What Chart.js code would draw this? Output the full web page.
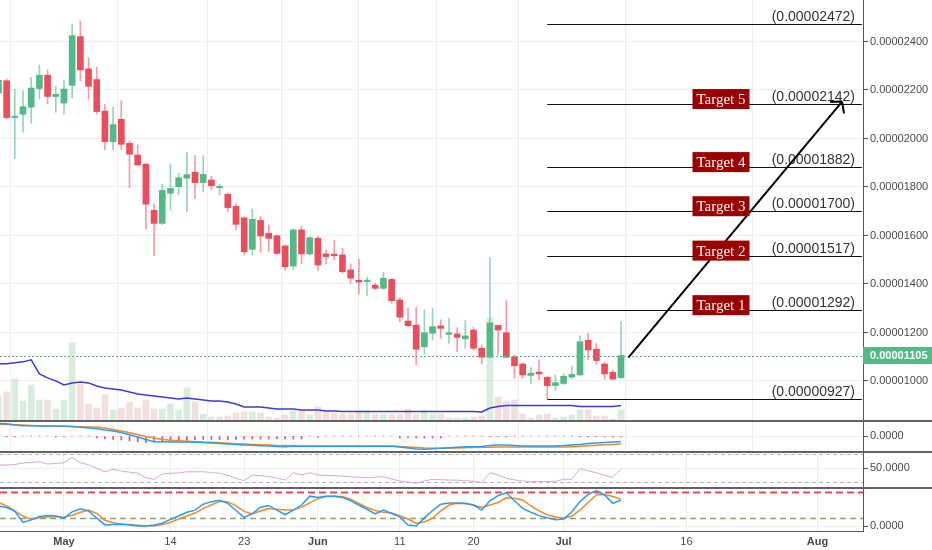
<!DOCTYPE html>
<html>
<head>
<meta charset="utf-8">
<script src="https://cdn.jsdelivr.net/npm/chart.js@4.4.1/dist/chart.umd.min.js"></script>
<style>
  html, body { margin: 0; padding: 0; background: #fff; }
  #wrap { position: relative; width: 932px; height: 550px; overflow: hidden; }
  .pane { position: absolute; left: 0; width: 932px; }
  .sep { position: absolute; left: 0; width: 932px; height: 2px; background: #606368; }
</style>
</head>
<body>
<div id="wrap">
  <div class="pane" style="top:0;height:421px"><canvas id="main"></canvas></div>
  <div class="pane" style="top:421px;height:31px"><canvas id="macd"></canvas></div>
  <div class="pane" style="top:452px;height:36px"><canvas id="rsi"></canvas></div>
  <div class="pane" style="top:488px;height:62px"><canvas id="stoch"></canvas></div>
  <div class="sep" style="top:420px"></div>
  <div class="sep" style="top:451px"></div>
  <div class="sep" style="top:487px"></div>
</div>
<script>
// days counted from May 1 (0); first candle is Apr 23
const firstDay = -8;

// prices in satoshi (1e-8)
const opens = [2188,2238,2086,2100,2129,2206,2261,2173,2146,2219,2420,2287,2243,2113,1987,2079,1980,1932,1894,1704,
  1650,1774,1801,1836,1861,1818,1829,1797,1770,1720,1673,1543,1662,1609,1599,1557,1474,1623,1524,1589,
  1524,1523,1520,1458,1415,1410,1395,1382,1419,1334,1247,1230,1141,1197,1227,1192,1194,1174,1210,1135,
  1098,1229,1199,1100,1070,1023,1037,1015,981,990,1016,1025,1168,1131,1070,1036,1014];
const highs = [2250,2245,2203,2196,2252,2303,2283,2214,2241,2472,2485,2333,2294,2141,2129,2155,1990,1974,1897,1730,
  1811,1895,1856,1943,1929,1929,1845,1812,1775,1730,1676,1709,1680,1643,1601,1562,1628,1639,1595,1595,
  1540,1581,1547,1483,1502,1428,1403,1448,1422,1345,1300,1304,1293,1300,1252,1259,1220,1249,1221,1148,
  1510,1232,1331,1108,1075,1055,1087,1020,1025,1030,1062,1186,1197,1155,1078,1045,1245];
const lows = [2180,2080,1918,2026,2063,2162,2142,2108,2100,2166,2237,2162,2101,1955,1953,1955,1797,1885,1626,1517,
  1645,1705,1767,1698,1753,1781,1788,1767,1698,1623,1520,1520,1531,1533,1520,1458,1458,1483,1520,1455,
  1483,1499,1444,1403,1359,1352,1378,1378,1320,1245,1224,1066,1111,1169,1176,1155,1121,1135,1128,1070,
  1095,1107,1095,1011,1011,990,1004,927,960,985,1010,1023,1087,1069,1007,1004,1010];
const closes = [2240,2086,2092,2131,2208,2261,2173,2182,2204,2424,2283,2215,2111,1987,2057,1976,1935,1891,1729,1650,
  1786,1794,1838,1851,1818,1852,1805,1803,1715,1646,1533,1667,1598,1588,1526,1471,1623,1524,1591,1478,
  1513,1517,1451,1424,1408,1416,1382,1424,1331,1263,1228,1131,1199,1224,1217,1199,1180,1186,1135,1098,
  1240,1210,1098,1063,1025,1032,1029,981,993,1019,1027,1162,1128,1084,1029,1008,1105];
const volumes = [25,29,42,20,36,21,21,12,21,78,37,17,13,26,11,13,19,13,21,12,
  12,17,11,33,19,7,4,4,5,8,9,9,8,4,3,6,10,10,6,14,
  9,8,7,7,10,10,7,7,7,7,12,7,10,7,7,3,3,3,4,5,
  103,24,20,21,7,3,6,7,3,4,6,11,11,5,5,2,11];
const volumeMA = [57,57,58,59,61,47,43,40,36,38,39,38,35,33,32,31,29,27,26,25,
  24,23,22,23,22,21,20,20,19,17,14,14,14,13,12,12,12,11,11,11,
  10,10,9.5,9.5,9.5,9.5,9.5,9.5,9.5,9.5,9.5,9.5,9.5,9.5,9.5,9.5,9.5,9.5,9.5,9,
  13,14.5,15.5,15.5,15.5,15.5,15.5,15.5,15.5,15.5,15.5,14.5,14.5,14.5,14.5,14.5,15.5];

// MACD pane (arbitrary units)
const macdLine = [12.7,12.2,11,10.3,10.2,10.1,10,10,9.7,9.5,8.8,8,7.2,6,5,3.5,1.2,-1,-3.5,-5.7,
  -5.8,-5.9,-6,-6.1,-6.3,-6.6,-7.1,-7.6,-8.1,-8.5,-8.9,-9.3,-9.7,-10.1,-10.5,-10.7,-10.2,-10.2,-10.2,-10.2,
  -10.2,-10.2,-10.2,-10.2,-10.2,-10.2,-10.2,-10.2,-10.2,-11,-12,-13,-13.3,-12.8,-12.3,-11.8,-11.2,-10.7,-10.7,-10.5,
  -9.5,-9,-9,-9.5,-10,-10,-10,-10,-10,-9.6,-9,-8.4,-7.6,-7,-6.5,-6,-5.7];
const signalLine = [11.8,11.6,11.2,10.9,10.6,10.3,10.1,9.9,9.7,9.5,9.3,9.1,8.9,8,6.5,5,3.3,1.5,-0.5,-2,
  -3.5,-4.2,-4.8,-5.3,-5.7,-6.1,-6.3,-6.8,-7.3,-7.7,-8.1,-8.5,-8.8,-9.1,-9.4,-9.6,-9.8,-10,-10.1,-10.1,
  -10.1,-10.1,-10.1,-10.1,-10.1,-10.1,-10.1,-10.1,-10.1,-10.4,-10.9,-11.5,-12,-12.3,-12.3,-12.2,-12,-11.7,-11.5,-11.3,
  -11.2,-11.1,-11,-11.1,-11.1,-11.1,-11.1,-11.1,-11.1,-11.1,-10.7,-10.2,-9.7,-9.2,-8.8,-8.4,-8];
const macdHist = [0,-1,-1,0,0,0,0,-1,-1,0,0,0,-2,-3,-3.5,-4,-5,-6,-6.5,-6.5,
  -6,-5.5,-5,-4.5,-4,-3.5,-3.5,-3.5,-3.5,-3.5,-3,-3,-3,-3,-3,-3,-3,-3,0,-1.5,
  0,0,0,0,0,0,0,0,0,-2,-2,-2,-2,-2,-2,0,0,0,0,0,
  -1,-1,-1,0,0,0,0,0,0,0,0,-1,-1,-1,-1,-1,-1];

const rsi = [54.7,54.7,55.5,57.5,58.5,59.4,56.1,57,58,65.7,58,55,50,45.1,48.6,46.1,44.5,42.9,36.5,34.3,
  41.9,42.9,43.5,45.1,45,45.1,44,42.9,40,35.7,32.3,40.4,39.5,38,36,33.3,43.7,40.4,43.7,40.4,
  40,39.4,38.7,38,37.3,36.6,37.5,38,34.7,31.9,30.5,28.6,31.9,34.3,33.8,33.3,33,32.3,31.5,29.4,
  43.7,40.5,35.7,33.5,31.9,31,30.9,30.9,31.5,34.3,34.3,49.4,46.5,43.7,40,37.1,48.6];
const stochK = [48,44,35,9,15,23,25,24,19,34,41,36,19,3,4,4.5,3,0.5,0.5,3,
  7,16,24,33,38,52,58,61,54,37,21,30,45,49,38,27,38,50,71,68,
  71,71,68,60,50,40,29,38,30,22,3,0.5,19,37,52,55,55,54,50,38,
  60,72,79,60,42,33,25,20,15,17,34,58,75,84,74,54,62];
const stochD = [56,48,36,24,16,20,22,23,21,26,33,38,30,14,8,5,4,2.5,1,0.5,
  4,9,17,24,31,42,50,59,58,48,35,29,36,42,40,38,38,45,55,65,
  70,71,70,64,54,44,37,33,31,25,17,7,10,19,36,50,54,53,50,44,
  50,56,67,66,62,48,36,27,22,19,24,38,56,74,75,70,64];
const rsiBands = [70, 30];
const stochBands = [80, 20];

// drawing annotations
const fibLevels = [2472, 2142, 1882, 1700, 1517, 1292, 927];
const fibStartDay = 59;
const targetLevels = [1292, 1517, 1700, 1882, 2142];
const targetNames = ["Target 1", "Target 2", "Target 3", "Target 4", "Target 5"];
const arrowDays = [68.9, 95];
const arrowPrices = [1096, 2152];

const tickDays = [0, 13, 22, 31, 41, 50, 61, 76, 92];
const tickLabels = ["May", "14", "23", "Jun", "11", "20", "Jul", "16", "Aug"];
const priceTicks = [1000, 1200, 1400, 1600, 1800, 2000, 2200, 2400];

const days = closes.map((_, i) => firstDay + i);
const X_MIN = -7.81;
const X_MAX = 97.55;
const UP = "#53b987";
const DOWN = "#eb4d5c";
const GRID = "#eceef0";

Chart.defaults.font.family = '"Liberation Sans", Arial, sans-serif';
Chart.defaults.font.size = 11;
Chart.defaults.color = "#4a4a4a";
Chart.defaults.animation = false;
Chart.defaults.events = [];
Chart.defaults.plugins.legend.display = false;
Chart.defaults.plugins.tooltip.enabled = false;

const fmtPrice = (v) => (v / 1e8).toFixed(8);
const isUp = (i) => closes[i] >= opens[i];

function noPad(s) {
  s.paddingTop = 0;
  s.paddingBottom = 0;
  s.paddingLeft = 0;
  s.paddingRight = 0;
}

function xScale(showLabels) {
  return {
    type: "linear",
    min: X_MIN,
    max: X_MAX,
    offset: false,
    border: { display: showLabels, color: "#555" },
    grid: { color: GRID, drawTicks: false },
    afterBuildTicks: (s) => { s.ticks = tickDays.map((v) => ({ value: v })); },
    ticks: {
      display: showLabels,
      padding: 4,
      autoSkip: false,
      maxRotation: 0,
      color: "#4a4a4a",
      callback: (v, i) => tickLabels[i],
      font: (c) => ({ size: 11, weight: /^[A-Z]/.test(tickLabels[c.index] || "") ? "bold" : "normal" }),
    },
    afterFit: (s) => { s.height = showLabels ? 19 : 0; noPad(s); },
  };
}

function yScale(min, max, ticks, fmt) {
  return {
    position: "right",
    min,
    max,
    border: { color: "#555" },
    grid: { color: GRID, tickColor: "#555", tickLength: 5 },
    afterBuildTicks: (s) => { s.ticks = ticks.map((v) => ({ value: v })); },
    ticks: { padding: 2, color: "#4a4a4a", font: { size: 11 }, callback: fmt },
    afterFit: (s) => { s.width = 69; noPad(s); },
  };
}

function bandPlugin(values, styles) {
  return {
    id: "bands",
    beforeDatasetsDraw(chart) {
      const { ctx, chartArea: a, scales: { y } } = chart;
      ctx.save();
      values.forEach((v, i) => {
        const st = styles[i];
        const py = Math.round(y.getPixelForValue(v)) + 0.5;
        ctx.strokeStyle = st.color;
        ctx.lineWidth = st.width;
        ctx.setLineDash(st.dash);
        ctx.beginPath();
        ctx.moveTo(a.left, py);
        ctx.lineTo(a.right, py);
        ctx.stroke();
      });
      ctx.restore();
    },
  };
}

const mainOverlay = {
  id: "mainOverlay",
  afterDatasetsDraw(chart) {
    const { ctx, chartArea: a, scales: { x, y } } = chart;
    ctx.save();
    ctx.beginPath();
    ctx.rect(a.left, a.top, a.right - a.left, a.bottom - a.top);
    ctx.clip();

    // last price dotted line
    const last = closes[closes.length - 1];
    const ly = Math.round(y.getPixelForValue(last)) + 0.5;
    ctx.strokeStyle = UP;
    ctx.lineWidth = 1;
    ctx.setLineDash([2, 2]);
    ctx.beginPath();
    ctx.moveTo(a.left, ly);
    ctx.lineTo(a.right, ly);
    ctx.stroke();
    ctx.setLineDash([]);

    // fib levels
    const fx = x.getPixelForValue(fibStartDay);
    ctx.font = '14px "Liberation Sans", Arial, sans-serif';
    ctx.textAlign = "right";
    ctx.textBaseline = "alphabetic";
    fibLevels.forEach((lv) => {
      const py = Math.round(y.getPixelForValue(lv)) + 0.5;
      ctx.strokeStyle = "#111";
      ctx.lineWidth = 1;
      ctx.beginPath();
      ctx.moveTo(fx, py);
      ctx.lineTo(a.right - 1, py);
      ctx.stroke();
      ctx.fillStyle = "#333";
      ctx.fillText("(" + fmtPrice(lv) + ")", a.right - 8, py - 4);
    });

    // arrow
    const x0 = x.getPixelForValue(arrowDays[0]);
    const y0 = y.getPixelForValue(arrowPrices[0]);
    const x1 = x.getPixelForValue(arrowDays[1]);
    const y1 = y.getPixelForValue(arrowPrices[1]);
    ctx.strokeStyle = "#000";
    ctx.lineWidth = 2;
    ctx.beginPath();
    ctx.moveTo(x0, y0);
    ctx.lineTo(x1, y1);
    const ang = Math.atan2(y0 - y1, x0 - x1);
    [-0.85, 0.85].forEach((d) => {
      ctx.moveTo(x1, y1);
      ctx.lineTo(x1 + 12 * Math.cos(ang + d), y1 + 12 * Math.sin(ang + d));
    });
    ctx.stroke();

    // target boxes
    ctx.font = '15px "Liberation Serif", "Times New Roman", serif';
    ctx.textAlign = "center";
    ctx.textBaseline = "middle";
    targetLevels.forEach((lv, i) => {
      const cx = a.right - 142;
      const cy = y.getPixelForValue(lv) - 5;
      ctx.fillStyle = "#990000";
      ctx.fillRect(cx - 28.5, cy - 10, 57, 20);
      ctx.fillStyle = "#fff";
      ctx.fillText(targetNames[i], cx, cy + 1);
    });
    ctx.restore();
  },
  afterDraw(chart) {
    const { ctx, chartArea: a, scales: { y } } = chart;
    const last = closes[closes.length - 1];
    const py = y.getPixelForValue(last);
    ctx.save();
    ctx.fillStyle = UP;
    ctx.fillRect(a.right, py - 8.5, chart.width - a.right, 17);
    ctx.fillStyle = "#fff";
    ctx.font = 'bold 11px "Liberation Sans", Arial, sans-serif';
    ctx.textAlign = "left";
    ctx.textBaseline = "middle";
    ctx.fillText(fmtPrice(last), a.right + 7, py + 0.5);
    ctx.restore();
  },
};

new Chart(document.getElementById("main"), {
  type: "bar",
  data: {
    datasets: [
      {
        data: days.map((d, i) => ({ x: d, y: [opens[i], closes[i]] })),
        backgroundColor: days.map((_, i) => (isUp(i) ? UP : DOWN)),
        barThickness: 6,
        minBarLength: 1,
        grouped: false,
        order: 1,
      },
      {
        data: days.map((d, i) => ({ x: d, y: [lows[i], highs[i]] })),
        backgroundColor: days.map((_, i) => (isUp(i) ? "rgba(83,185,135,0.6)" : "rgba(235,77,92,0.55)")),
        barThickness: 1,
        grouped: false,
        order: 2,
      },
      {
        type: "line",
        data: days.map((d, i) => ({ x: d, y: volumeMA[i] })),
        yAxisID: "yVol",
        borderColor: "#3b3bd6",
        borderWidth: 1.5,
        pointRadius: 0,
        order: 3,
      },
      {
        data: days.map((d, i) => ({ x: d, y: volumes[i] })),
        yAxisID: "yVol",
        backgroundColor: days.map((_, i) => (isUp(i) ? "rgba(120,190,140,0.28)" : "rgba(220,150,150,0.3)")),
        barThickness: 6,
        grouped: false,
        order: 4,
      },
    ],
  },
  options: {
    responsive: true,
    maintainAspectRatio: false,
    layout: { padding: 0 },
    scales: {
      x: xScale(false),
      y: yScale(835, 2571, priceTicks, (v) => fmtPrice(v)),
      yVol: { display: false, min: 0, max: 420 },
    },
  },
  plugins: [mainOverlay],
});

new Chart(document.getElementById("macd"), {
  type: "bar",
  data: {
    datasets: [
      {
        data: days.map((d, i) => ({ x: d, y: macdHist[i] })),
        backgroundColor: "#e5536a",
        barThickness: 1,
        grouped: false,
        order: 3,
      },
      {
        type: "line",
        data: days.map((d, i) => ({ x: d, y: signalLine[i] })),
        borderColor: "#f08a2c",
        borderWidth: 1.5,
        pointRadius: 0,
        order: 2,
      },
      {
        type: "line",
        data: days.map((d, i) => ({ x: d, y: macdLine[i] })),
        borderColor: "#2e9cf0",
        borderWidth: 1.5,
        pointRadius: 0,
        order: 1,
      },
    ],
  },
  options: {
    responsive: true,
    maintainAspectRatio: false,
    layout: { padding: 0 },
    scales: { x: xScale(false), y: yScale(-16, 15, [0], () => "0.0000") },
  },
});

new Chart(document.getElementById("rsi"), {
  type: "line",
  data: {
    datasets: [
      {
        data: days.map((d, i) => ({ x: d, y: rsi[i] })),
        borderColor: "#d9a6da",
        borderWidth: 1,
        pointRadius: 0,
      },
    ],
  },
  options: {
    responsive: true,
    maintainAspectRatio: false,
    layout: { padding: 0 },
    scales: { x: xScale(false), y: yScale(21.9, 73.3, [50], (v) => v.toFixed(4)) },
  },
  plugins: [bandPlugin(rsiBands, [
    { color: "#b4b6ba", width: 1, dash: [4, 3] },
    { color: "#b4b6ba", width: 1, dash: [4, 3] },
  ])],
});

new Chart(document.getElementById("stoch"), {
  type: "line",
  data: {
    datasets: [
      {
        data: days.map((d, i) => ({ x: d, y: stochD[i] })),
        borderColor: "#f08a2c",
        borderWidth: 1.5,
        pointRadius: 0,
        order: 2,
      },
      {
        data: days.map((d, i) => ({ x: d, y: stochK[i] })),
        borderColor: "#2e9cf0",
        borderWidth: 1.5,
        pointRadius: 0,
        order: 1,
      },
    ],
  },
  options: {
    responsive: true,
    maintainAspectRatio: false,
    layout: { padding: 0 },
    scales: { x: xScale(true), y: yScale(-11.3, 90.2, [0], () => "0.0000") },
  },
  plugins: [bandPlugin(stochBands, [
    { color: "#ef4a4a", width: 2, dash: [7, 4] },
    { color: "#8aa858", width: 1.5, dash: [6, 4] },
  ])],
});
</script>
</body>
</html>
